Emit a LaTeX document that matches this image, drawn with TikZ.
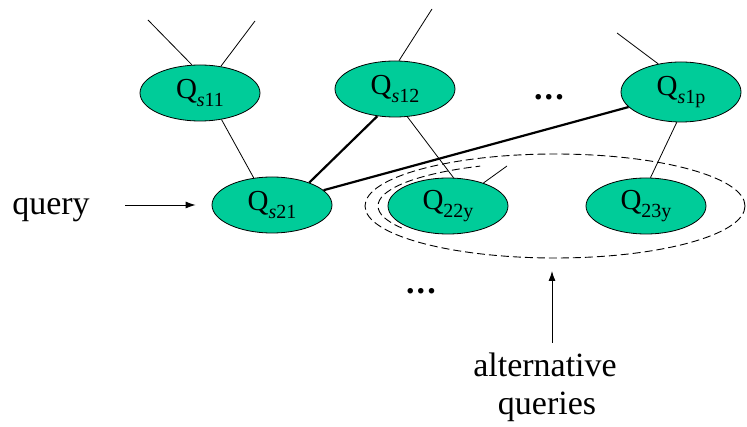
\documentclass[tikz,border=0pt]{standalone}
\usepackage{fontspec}
\setmainfont{Liberation Serif}
\usetikzlibrary{shapes.geometric,arrows.meta}
\definecolor{qgreen}{HTML}{00CC99}
\newcommand{\qlab}[2]{Q\raisebox{-0.28em}{\fontsize{20}{20}\selectfont #1}}
\begin{document}
\begin{tikzpicture}[x=1pt,y=-1pt,
  qnode/.style={ellipse,draw=black,line width=0.8pt,fill=qgreen,
    minimum width=120pt,minimum height=56pt,inner sep=0pt,
    font=\fontsize{29}{32}\selectfont},
  thin link/.style={line width=0.8pt},
  thick link/.style={line width=2.2pt},
  big text/.style={font=\fontsize{34}{38}\selectfont,inner sep=0pt},
  dots/.style={font=\fontsize{34}{38}\selectfont\bfseries,inner sep=0pt,anchor=base},
  pointer/.style={line width=0.9pt,-{Latex[length=10pt,width=7pt]}},
  group ring/.style={dashed,dash pattern=on 8pt off 4pt,line width=0.9pt}]
\useasboundingbox (0,0) rectangle (747,427);

% group of alternative queries
\draw[group ring] (555,206) ellipse [x radius=190,y radius=52];
\draw[group ring] (555,206) ++(150:177 and 44) arc [start angle=150,end angle=245,x radius=177,y radius=44];

% query nodes
\node[qnode] (s11) at (200,93)  {\qlab{\textit{s}11}{}};
\node[qnode] (s12) at (395,89)  {\qlab{\textit{s}12}{}};
\node[qnode,minimum height=60pt] (s1p) at (681,92)  {\qlab{\textit{s}1p}{}};
\node[qnode] (s21) at (272,205) {\qlab{\textit{s}21}{}};
\node[qnode] (q22) at (448,206) {\qlab{22y}{}};
\node[qnode] (q23) at (646,206) {\qlab{23y}{}};

% loose ends of edges to further queries
\coordinate (e1) at (148,20);
\coordinate (e2) at (255,21);
\coordinate (e3) at (432,9);
\coordinate (e4) at (617,33);
\coordinate (e5) at (507,166);
\draw[thin link] (s11.106) -- (e1);
\draw[thin link] (s11.52) -- (e2);
\draw[thin link] (s12.82) -- (e3);
\draw[thin link] (s1p.129.6) -- (e4);
\draw[thin link] (q22.33) -- (e5);

% edges between queries
\draw[thin link] (s11.-51.6) -- (s21.124.6);
\draw[thin link] (s12.-66.8) -- (q22.79.5);
\draw[thin link] (s1p.262.4) -- (q23.81.9);
\draw[thick link] (s12.237.3) -- (s21.31);
\draw[thick link] (s1p.196.4) -- (s21.16.4);

% labels and pointers
\node[big text,anchor=base] (qtext) at (51,215) {query};
\coordinate (qstart) at (125,205);
\draw[pointer] (qstart) -- ([xshift=-16pt]s21.west);

\node[big text,anchor=base] (alt1) at (545,377) {alternative};
\node[big text,anchor=base] (alt2) at (547,415) {queries};
\coordinate (astart) at (552,343);
\coordinate (aend) at (552,271);
\draw[pointer] (astart) -- (aend);

\node[dots] (d1) at (549,99.5) {.\hspace{2.2pt}.\hspace{2.2pt}.};
\node[dots] (d2) at (421,294) {.\hspace{2.2pt}.\hspace{2.2pt}.};
\end{tikzpicture}
\end{document}
